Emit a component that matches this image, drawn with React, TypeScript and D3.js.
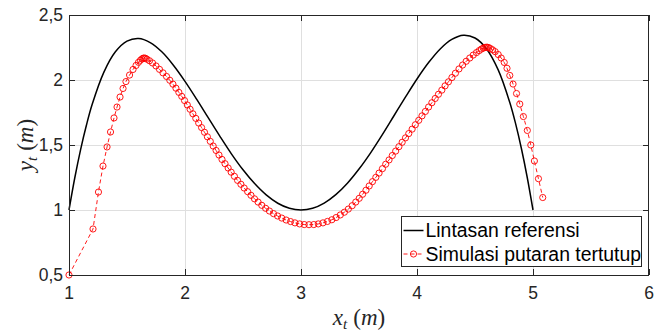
import React from "react";
import * as d3 from "d3";

// Reference trajectory
const refX = [1.0, 1.05, 1.1, 1.15, 1.2, 1.3, 1.4, 1.5, 1.6, 1.7, 1.8, 1.9, 2.0, 2.1, 2.2, 2.3, 2.4, 2.5, 2.6, 2.7, 2.8, 2.9, 3.0, 3.1, 3.2, 3.3, 3.4, 3.5, 3.6, 3.7, 3.8, 3.9, 4.0, 4.1, 4.2, 4.3, 4.4, 4.5, 4.6, 4.7, 4.8, 4.85, 4.9, 4.95, 5.0];
const refY = [1.0, 1.248, 1.465, 1.652, 1.813, 2.059, 2.217, 2.299, 2.319, 2.288, 2.217, 2.114, 1.99, 1.853, 1.71, 1.568, 1.432, 1.309, 1.203, 1.116, 1.052, 1.013, 1.0, 1.013, 1.053, 1.118, 1.206, 1.315, 1.44, 1.578, 1.723, 1.868, 2.008, 2.134, 2.239, 2.312, 2.344, 2.323, 2.239, 2.078, 1.827, 1.664, 1.473, 1.252, 1.0];

// Closed-loop simulation
const simX = [1.0, 1.207, 1.254, 1.293, 1.328, 1.358, 1.388, 1.414, 1.44, 1.466, 1.491, 1.522, 1.552, 1.578, 1.599, 1.616, 1.629, 1.64, 1.649, 1.659, 1.672, 1.694, 1.72, 1.75, 1.78, 1.81, 1.841, 1.869, 1.896, 1.922, 1.947, 1.972, 1.996, 2.02, 2.044, 2.068, 2.093, 2.118, 2.143, 2.168, 2.193, 2.218, 2.243, 2.268, 2.293, 2.319, 2.345, 2.372, 2.398, 2.426, 2.453, 2.482, 2.51, 2.54, 2.569, 2.599, 2.63, 2.662, 2.695, 2.728, 2.763, 2.798, 2.834, 2.872, 2.91, 2.948, 2.988, 3.028, 3.069, 3.11, 3.149, 3.189, 3.228, 3.266, 3.303, 3.339, 3.374, 3.408, 3.441, 3.472, 3.502, 3.531, 3.56, 3.588, 3.616, 3.645, 3.673, 3.702, 3.73, 3.759, 3.787, 3.816, 3.844, 3.872, 3.901, 3.929, 3.958, 3.986, 4.015, 4.043, 4.072, 4.1, 4.128, 4.157, 4.185, 4.214, 4.242, 4.271, 4.301, 4.331, 4.362, 4.393, 4.424, 4.455, 4.485, 4.513, 4.536, 4.555, 4.571, 4.584, 4.595, 4.606, 4.618, 4.633, 4.652, 4.674, 4.7, 4.726, 4.752, 4.776, 4.8, 4.828, 4.858, 4.886, 4.917, 4.951, 4.981, 5.012, 5.047, 5.084];
const simY = [0.5, 0.854, 1.138, 1.338, 1.485, 1.6, 1.708, 1.792, 1.869, 1.935, 1.988, 2.038, 2.081, 2.112, 2.136, 2.152, 2.162, 2.168, 2.169, 2.167, 2.16, 2.148, 2.131, 2.108, 2.082, 2.055, 2.027, 1.998, 1.968, 1.937, 1.905, 1.874, 1.842, 1.808, 1.775, 1.74, 1.705, 1.669, 1.634, 1.598, 1.563, 1.528, 1.492, 1.458, 1.423, 1.389, 1.356, 1.323, 1.291, 1.259, 1.228, 1.198, 1.169, 1.141, 1.113, 1.086, 1.061, 1.036, 1.013, 0.992, 0.972, 0.954, 0.938, 0.923, 0.911, 0.901, 0.893, 0.888, 0.887, 0.888, 0.893, 0.901, 0.912, 0.925, 0.942, 0.962, 0.983, 1.007, 1.033, 1.061, 1.09, 1.121, 1.152, 1.185, 1.218, 1.251, 1.284, 1.318, 1.352, 1.385, 1.419, 1.453, 1.487, 1.521, 1.555, 1.588, 1.622, 1.656, 1.69, 1.724, 1.758, 1.792, 1.825, 1.858, 1.89, 1.922, 1.955, 1.986, 2.019, 2.052, 2.085, 2.115, 2.144, 2.169, 2.192, 2.211, 2.226, 2.238, 2.245, 2.25, 2.252, 2.252, 2.249, 2.242, 2.232, 2.218, 2.196, 2.169, 2.135, 2.09, 2.035, 1.969, 1.896, 1.815, 1.719, 1.612, 1.5, 1.377, 1.241, 1.096];

const xTicks = [1, 2, 3, 4, 5, 6];
const xTickLabels = ["1", "2", "3", "4", "5", "6"];
const yTicks = [0.5, 1, 1.5, 2, 2.5];
const yTickLabels = ["0,5", "1", "1,5", "2", "2,5"];
const legendLabels = ["Lintasan referensi", "Simulasi putaran tertutup"];

const W = 655, H = 332;
const L = 69, R = 649, T = 15, B = 275;
const AX = "#262626";
const FONT = "'Liberation Sans', Arial, Helvetica, sans-serif";
const SERIF = "'Liberation Serif', 'Times New Roman', serif";

export default function App() {
  const x = d3.scaleLinear().domain([1, 6]).range([L, R]);
  const y = d3.scaleLinear().domain([0.5, 2.5]).range([B, T]);
  const refPts: [number, number][] = refX.map((v, i) => [v, refY[i]]);
  const simPts: [number, number][] = simX.map((v, i) => [v, simY[i]]);
  const refLine = d3.line<[number, number]>().x(d => x(d[0])).y(d => y(d[1])).curve(d3.curveCatmullRom.alpha(0.5));
  const simLine = d3.line<[number, number]>().x(d => x(d[0])).y(d => y(d[1]));
  const tick = 6;
  const lgX = 401.5, lgY = 216.5, lgW = 240, lgH = 50;
  return (
    <svg width={W} height={H} style={{ position: "absolute", left: 0, top: 0, background: "#fff" }}>
      <rect x={0} y={0} width={W} height={H} fill="#fff" />
      {/* grid */}
      {xTicks.slice(1, -1).map(t => (
        <line key={"gx" + t} x1={Math.round(x(t)) + 0.5} x2={Math.round(x(t)) + 0.5} y1={T} y2={B} stroke="#dfdfdf" strokeWidth={1} />
      ))}
      {yTicks.slice(1, -1).map(t => (
        <line key={"gy" + t} y1={Math.round(y(t)) + 0.5} y2={Math.round(y(t)) + 0.5} x1={L} x2={R} stroke="#dfdfdf" strokeWidth={1} />
      ))}
      {/* reference */}
      <path d={refLine(refPts) || ""} fill="none" stroke="#000" strokeWidth={1.5} />
      {/* simulation */}
      <path d={simLine(simPts) || ""} fill="none" stroke="#ff0000" strokeWidth={0.9} strokeDasharray="4,3" />
      {simPts.map((p, i) => (
        <circle key={i} cx={x(p[0])} cy={y(p[1])} r={3.1} fill="none" stroke="#ff0000" strokeWidth={0.9} />
      ))}
      {/* frame */}
      <rect x={L + 0.5} y={T + 0.5} width={R - L - 1} height={B - T} fill="none" stroke={AX} strokeWidth={1} />
      {xTicks.map(t => (
        <g key={"xt" + t}>
          <line x1={Math.round(x(t)) + 0.5} x2={Math.round(x(t)) + 0.5} y1={B} y2={B - tick} stroke={AX} />
          <line x1={Math.round(x(t)) + 0.5} x2={Math.round(x(t)) + 0.5} y1={T} y2={T + tick} stroke={AX} />
        </g>
      ))}
      {yTicks.map(t => (
        <g key={"yt" + t}>
          <line y1={Math.round(y(t)) + 0.5} y2={Math.round(y(t)) + 0.5} x1={L} x2={L + tick} stroke={AX} />
          <line y1={Math.round(y(t)) + 0.5} y2={Math.round(y(t)) + 0.5} x1={R} x2={R - tick} stroke={AX} />
        </g>
      ))}
      {xTicks.map((t, i) => (
        <text key={"xl" + t} x={x(t)} y={B + 24} textAnchor="middle" fontFamily={FONT} fontSize={17.5} fill={AX}>{xTickLabels[i]}</text>
      ))}
      {yTicks.map((t, i) => (
        <text key={"yl" + t} x={L - 6} y={y(t)} dy="0.36em" textAnchor="end" fontFamily={FONT} fontSize={17.5} fill={AX}>{yTickLabels[i]}</text>
      ))}
      {/* axis labels */}
      <text x={(L + R) / 2} y={325} textAnchor="middle" fontFamily={SERIF} fontSize={23} fill={AX}>
        <tspan fontStyle="italic">x</tspan>
        <tspan fontStyle="italic" fontSize={15} dy={4}>t</tspan>
        <tspan dy={-4} dx={6}>(</tspan>
        <tspan fontStyle="italic">m</tspan>
        <tspan>)</tspan>
      </text>
      <text transform={`translate(33,${(T + B) / 2}) rotate(-90)`} textAnchor="middle" fontFamily={SERIF} fontSize={23} fill={AX}>
        <tspan fontStyle="italic">y</tspan>
        <tspan fontStyle="italic" fontSize={15} dy={4}>t</tspan>
        <tspan dy={-4} dx={6}>(</tspan>
        <tspan fontStyle="italic">m</tspan>
        <tspan>)</tspan>
      </text>
      {/* legend */}
      <rect x={lgX} y={lgY} width={lgW} height={lgH} fill="#fff" stroke={AX} strokeWidth={1} />
      <line x1={lgX + 2} x2={lgX + 22} y1={230.5} y2={230.5} stroke="#000" strokeWidth={1.5} />
      <line x1={lgX + 2} x2={lgX + 22} y1={254} y2={254} stroke="#ff0000" strokeWidth={0.9} strokeDasharray="4,3" />
      <circle cx={lgX + 12} cy={254} r={3.1} fill="none" stroke="#ff0000" strokeWidth={0.9} />
      <text x={lgX + 24} y={230.5} dy="0.36em" fontFamily={FONT} fontSize={19.4} fill="#000">{legendLabels[0]}</text>
      <text x={lgX + 24} y={254} dy="0.36em" fontFamily={FONT} fontSize={19.4} fill="#000">{legendLabels[1]}</text>
    </svg>
  );
}
